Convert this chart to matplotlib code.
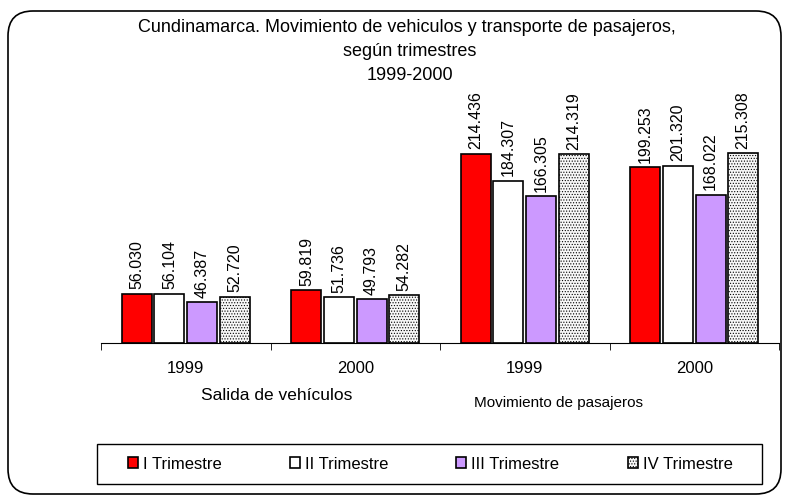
import matplotlib.pyplot as plt
import numpy as np
from matplotlib.patches import FancyBboxPatch, Rectangle

plt.rcParams['font.family'] = ['Liberation Sans', 'DejaVu Sans']
plt.rcParams['hatch.color'] = '#c4c4c4'
plt.rcParams['hatch.linewidth'] = 0.5

# datos (miles)
grupos = ['1999', '2000', '1999', '2000']
series = ['I Trimestre', 'II Trimestre', 'III Trimestre', 'IV Trimestre']
trim_1 = [56.030, 59.819, 214.436, 199.253]
trim_2 = [56.104, 51.736, 184.307, 201.320]
trim_3 = [46.387, 49.793, 166.305, 168.022]
trim_4 = [52.720, 54.282, 214.319, 215.308]
valores = [trim_1, trim_2, trim_3, trim_4]

colores = ['#ff0000', '#ffffff', '#cc99ff', '#f7f7f7']
tramas = [None, None, None, '......']

W, H = 787, 502
fig = plt.figure(figsize=(W / 100, H / 100), dpi=100)

# marco redondeado
fig.patches.append(FancyBboxPatch((0.08, 0.07), 7.73, 4.83,
                                  boxstyle='round,pad=0,rounding_size=0.25',
                                  transform=fig.dpi_scale_trans, fill=False,
                                  edgecolor='black', linewidth=1.2))

ax = fig.add_axes([101 / W, (H - 344) / H, 678 / W, 250 / H])
x = np.arange(len(grupos))
ancho = 0.177
paso = 0.192
for i, (vals, c, h) in enumerate(zip(valores, colores, tramas)):
    pos = x + (i - 1.5) * paso
    ax.bar(pos, vals, width=ancho, color=c, edgecolor='black', linewidth=1.2,
           hatch=h, label=series[i])
    for p, v in zip(pos, vals):
        ax.annotate(f'{v:.3f}', (p, v), xytext=(0, 4), textcoords='offset points',
                    rotation=90, ha='center', va='bottom', fontsize=11.5)

ax.set_xlim(-0.5, 3.5)
ax.set_ylim(0, 283.6)
ax.set_xticks(x)
ax.set_xticklabels(grupos, fontsize=12)
ax.set_xticks([-0.5, 0.5, 1.5, 2.5, 3.5], minor=True)
ax.tick_params(axis='x', which='major', length=0, pad=12)
ax.tick_params(axis='x', which='minor', length=5, direction='out')
ax.set_yticks([])
for s in ['top', 'right', 'left']:
    ax.spines[s].set_visible(False)
ax.patch.set_visible(False)

fig.text(277 / W, 1 - 396 / H, 'Salida de vehículos', ha='center', va='center', fontsize=12.5)
fig.text(558 / W, 1 - 403 / H, 'Movimiento de pasajeros', ha='center', va='center', fontsize=11)

fig.text(407 / W, 1 - 27 / H, 'Cundinamarca. Movimiento de vehiculos y transporte de pasajeros,',
         ha='center', va='center', fontsize=13)
fig.text(410 / W, 1 - 51 / H, 'según trimestres', ha='center', va='center', fontsize=13)
fig.text(410 / W, 1 - 76 / H, '1999-2000', ha='center', va='center', fontsize=13)

# leyenda con marco propio
fig.patches.append(Rectangle((97 / W, 1 - 485 / H), 665 / W, 40 / H,
                             transform=fig.transFigure, fill=False,
                             edgecolor='black', linewidth=1))
leg = fig.legend(loc='center', bbox_to_anchor=(430 / W, 1 - 465 / H), ncol=4,
                 fontsize=12, frameon=False,
                 handlelength=0.6, handleheight=0.6, handletextpad=0.3,
                 columnspacing=4.1)

fig.savefig('out.png', dpi=100)
